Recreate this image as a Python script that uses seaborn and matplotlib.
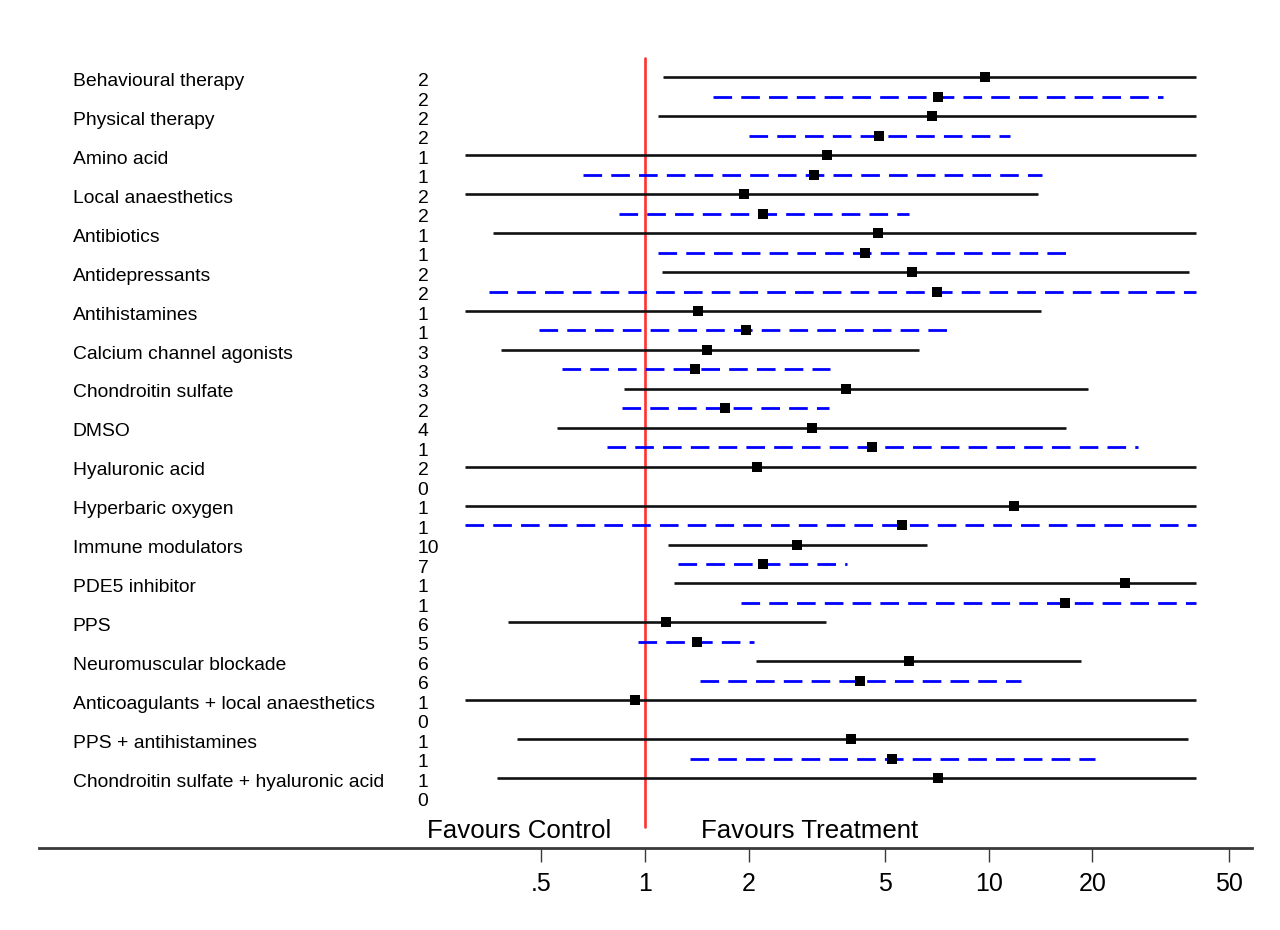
import numpy as np
import pandas as pd
import matplotlib
matplotlib.use("Agg")
import matplotlib.pyplot as plt
import matplotlib.transforms as mtransforms
from matplotlib.ticker import NullLocator
import seaborn as sns

# ---------------- data ----------------
treatments = [
    "Behavioural therapy", "Physical therapy", "Amino acid", "Local anaesthetics",
    "Antibiotics", "Antidepressants", "Antihistamines", "Calcium channel agonists",
    "Chondroitin sulfate", "DMSO", "Hyaluronic acid", "Hyperbaric oxygen",
    "Immune modulators", "PDE5 inhibitor", "PPS", "Neuromuscular blockade",
    "Anticoagulants + local anaesthetics", "PPS + antihistamines",
    "Chondroitin sulfate + hyaluronic acid",
]
n_solid = [2, 2, 1, 2, 1, 2, 1, 3, 3, 4, 2, 1, 10, 1, 6, 6, 1, 1, 1]
n_dashed = [2, 2, 1, 2, 1, 2, 1, 3, 2, 1, 0, 1, 7, 1, 5, 6, 0, 1, 0]

est_solid = [9.73, 6.84, 3.38, 1.94, 4.75, 5.96, 1.43, 1.51, 3.84, 3.06,
             2.11, 11.85, 2.76, 24.9, 1.149, 5.84, 0.937, 3.96, 7.09]
lo_solid = [1.13, 1.09, 0.30, 0.30, 0.362, 1.12, 0.30, 0.381, 0.867, 0.555,
            0.30, 0.30, 1.166, 1.217, 0.399, 2.10, 0.30, 0.425, 0.372]
hi_solid = [40, 40, 40, 13.9, 40, 38.1, 14.2, 6.27, 19.4, 16.7,
            40, 40, 6.62, 40, 3.36, 18.5, 40, 37.9, 40]

est_dashed = [7.09, 4.80, 3.09, 2.21, 4.36, 7.07, 1.97, 1.40, 1.71, 4.58,
              np.nan, 5.57, 2.20, 16.6, 1.42, 4.22, np.nan, 5.21, np.nan]
lo_dashed = [1.58, 2.01, 0.662, 0.842, 1.093, 0.351, 0.491, 0.573, 0.856, 0.774,
             np.nan, 0.30, 1.245, 1.90, 0.956, 1.45, np.nan, 1.349, np.nan]
hi_dashed = [32.0, 11.5, 14.3, 5.85, 16.9, 40, 7.58, 3.45, 3.43, 27.1,
             np.nan, 40, 3.87, 40, 2.08, 12.4, np.nan, 20.3, np.nan]

tick_values = [0.5, 1, 2, 5, 10, 20, 50]
tick_labels = [".5", "1", "2", "5", "10", "20", "50"]
null_value = 1
x_min, x_max = 0.3, 40

# ---------------- style ----------------
sns.set_theme(style="white")
plt.rcParams["font.family"] = ["Liberation Sans", "DejaVu Sans"]

fig = plt.figure(figsize=(12.8, 9.3), dpi=100)
W, H = 1280, 930
left_px, right_px, bottom_px, top_px = 39, 1251.5, 848, 40
ax = fig.add_axes([left_px / W, 1 - bottom_px / H,
                   (right_px - left_px) / W, (bottom_px - top_px) / H])

row0_px, row_step = 77.5, 19.46
ax.set_xscale("log")
ax.set_xlim(0.0173, 58)
ax.set_ylim((bottom_px - row0_px) / row_step, (top_px - row0_px) / row_step)

n = len(treatments)
rows_solid = np.arange(n) * 2
rows_dashed = np.arange(n) * 2 + 1

df_s = pd.DataFrame({"row": rows_solid, "est": est_solid,
                     "lo": np.clip(lo_solid, x_min, x_max),
                     "hi": np.clip(hi_solid, x_min, x_max)})
df_d = pd.DataFrame({"row": rows_dashed, "est": est_dashed,
                     "lo": np.clip(lo_dashed, x_min, x_max),
                     "hi": np.clip(hi_dashed, x_min, x_max)}).dropna()

# CI lines
ax.hlines(df_s["row"], df_s["lo"], df_s["hi"], colors="#111111", linewidth=1.9, zorder=2)
for _, r in df_d.iterrows():
    ax.plot([r["lo"], r["hi"]], [r["row"], r["row"]], color="#0000ff",
            linewidth=2.0, linestyle=(0, (6.7, 3.3)),
            dash_capstyle="butt", zorder=2)

# point estimates
df_pts = pd.concat([df_s, df_d])
sns.scatterplot(data=df_pts, x="est", y="row", marker="s", color="black",
                s=46, linewidth=0, ax=ax, zorder=3, legend=False)

# null line
ax.plot([null_value, null_value], [-1.0, 38.5], color="#ff3030", linewidth=1.9, zorder=1)

# labels and counts (baseline a little below each row line)
trans = mtransforms.blended_transform_factory(ax.transAxes, ax.transData)
lab_x = (72.7 - left_px) / (right_px - left_px)
cnt_x = (417.7 - left_px) / (right_px - left_px)
base_off = 8.6 / row_step
fs_lab = 13.9
for i, name in enumerate(treatments):
    ax.text(lab_x, rows_solid[i] + base_off, name, transform=trans, ha="left",
            va="baseline", fontsize=fs_lab, color="black")
    ax.text(cnt_x, rows_solid[i] + base_off, str(n_solid[i]), transform=trans,
            ha="left", va="baseline", fontsize=fs_lab, color="black")
    ax.text(cnt_x, rows_dashed[i] + base_off, str(n_dashed[i]), transform=trans,
            ha="left", va="baseline", fontsize=fs_lab, color="black")

fav_row = (837.5 - row0_px) / row_step
ax.text(0.80, fav_row, "Favours Control", ha="right", va="baseline", fontsize=18.6, color="black")
ax.text(1.455, fav_row, "Favours Treatment", ha="left", va="baseline", fontsize=18.6, color="black")

# axes
ax.set_xticks(tick_values)
ax.set_xticklabels(tick_labels)
ax.xaxis.set_minor_locator(NullLocator())
ax.set_yticks([])
ax.set_xlabel("")
ax.set_ylabel("")
for s in ["top", "left", "right"]:
    ax.spines[s].set_visible(False)
ax.spines["bottom"].set_color("#3a3a3a")
ax.spines["bottom"].set_linewidth(2)
ax.tick_params(axis="x", bottom=True, direction="out", length=10, width=1,
               color="#3a3a3a", pad=7, labelsize=18, labelcolor="black")

fig.savefig("out.png", dpi=100, facecolor="white")
